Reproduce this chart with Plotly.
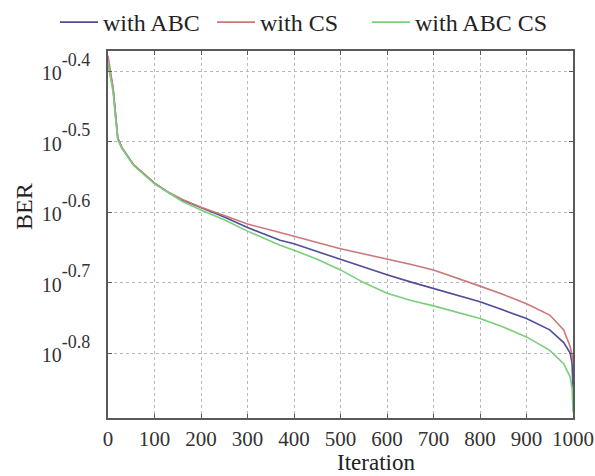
import numpy as np
import plotly.graph_objects as go

# Iteration index shared by the three runs
iterations = [0, 3, 7, 11, 16, 21, 30, 55, 100, 130, 160, 200, 250, 300, 370, 400,
              450, 500, 550, 600, 650, 700, 750, 800, 850, 900, 950, 980, 994, 998, 1000]

# log10(BER) per iteration
log_ber_abc = [-0.390, -0.397, -0.410, -0.425, -0.460, -0.495, -0.509, -0.533, -0.559, -0.572,
               -0.583, -0.594, -0.607, -0.622, -0.640, -0.645, -0.656, -0.668, -0.679, -0.689,
               -0.699, -0.708, -0.717, -0.727, -0.739, -0.751, -0.767, -0.785, -0.800, -0.815, -0.850]
log_ber_cs = [-0.378, -0.393, -0.410, -0.425, -0.460, -0.495, -0.509, -0.533, -0.559, -0.572,
              -0.582, -0.593, -0.605, -0.617, -0.629, -0.634, -0.643, -0.652, -0.659, -0.667,
              -0.674, -0.682, -0.693, -0.705, -0.717, -0.730, -0.746, -0.767, -0.791, -0.803, -0.814]
log_ber_abc_cs = [-0.390, -0.400, -0.413, -0.430, -0.465, -0.497, -0.510, -0.534, -0.560, -0.573,
                  -0.585, -0.597, -0.611, -0.627, -0.647, -0.654, -0.667, -0.682, -0.700, -0.715,
                  -0.725, -0.733, -0.742, -0.751, -0.763, -0.777, -0.796, -0.815, -0.834, -0.850, -0.884]

series_names = ["with ABC", "with CS", "with ABC CS"]
series_colors = ["#4d4d9a", "#cc7878", "#78d078"]
legend_widths = [104, 102, None]

x_tick_vals = [0, 100, 200, 300, 400, 500, 600, 700, 800, 900, 1000]
y_tick_exps = [-0.4, -0.5, -0.6, -0.7, -0.8]

SERIF = "Liberation Serif, Times New Roman, serif"

fig = go.Figure()
for name, logs, color, lw in zip(series_names, [log_ber_abc, log_ber_cs, log_ber_abc_cs],
                                 series_colors, legend_widths):
    fig.add_trace(go.Scatter(
        x=iterations, y=np.power(10.0, logs), mode="lines", name=name,
        line=dict(color=color, width=1.6),
        legendwidth=lw,
    ))

axis_common = dict(
    showline=True, linecolor="#5a5a5a", linewidth=1.5, mirror="ticks",
    ticks="inside", ticklen=4, tickcolor="#5a5a5a", tickwidth=1,
    showgrid=True, gridcolor="#b8b8b8", griddash="dot", gridwidth=1,
    zeroline=False,
)

fig.update_xaxes(
    range=[0, 1000], tickvals=x_tick_vals, ticktext=[str(v) for v in x_tick_vals],
    ticklabelstandoff=1, tickfont=dict(family=SERIF, size=21, color="#333333"),
    **axis_common,
)
# exponent raised well above the base, as in a classic 10^x axis label
fig.update_yaxes(
    type="log", range=[-0.892, -0.3716],
    tickvals=[10 ** e for e in y_tick_exps],
    ticktext=["10<sup><sup><span style='font-size:18px'>%g</span></sup></sup>" % e
              for e in y_tick_exps],
    ticklabelshift=2, ticklabelstandoff=12,
    tickfont=dict(family=SERIF, size=20, color="#333333"),
    **axis_common,
)

fig.add_annotation(text="BER", xref="paper", yref="paper", x=-0.1806, y=0.575,
                   xanchor="center", yanchor="middle", textangle=-90, showarrow=False,
                   font=dict(family=SERIF, size=24, color="#222222"))
fig.add_annotation(text="Iteration", xref="paper", yref="paper", x=0.576, y=-0.1226,
                   xanchor="center", yanchor="middle", showarrow=False,
                   font=dict(family=SERIF, size=23, color="#222222"))

fig.update_layout(
    width=595, height=476,
    margin=dict(l=108, r=22, t=51, b=58, autoexpand=False),
    paper_bgcolor="white", plot_bgcolor="white",
    showlegend=True,
    legend=dict(
        orientation="h", xref="paper", yref="paper",
        x=-0.114, y=1.139, xanchor="left", yanchor="top",
        font=dict(family=SERIF, size=24, color="#222222"),
        bgcolor="rgba(0,0,0,0)", itemwidth=38,
    ),
)

fig.write_html("out.html")
